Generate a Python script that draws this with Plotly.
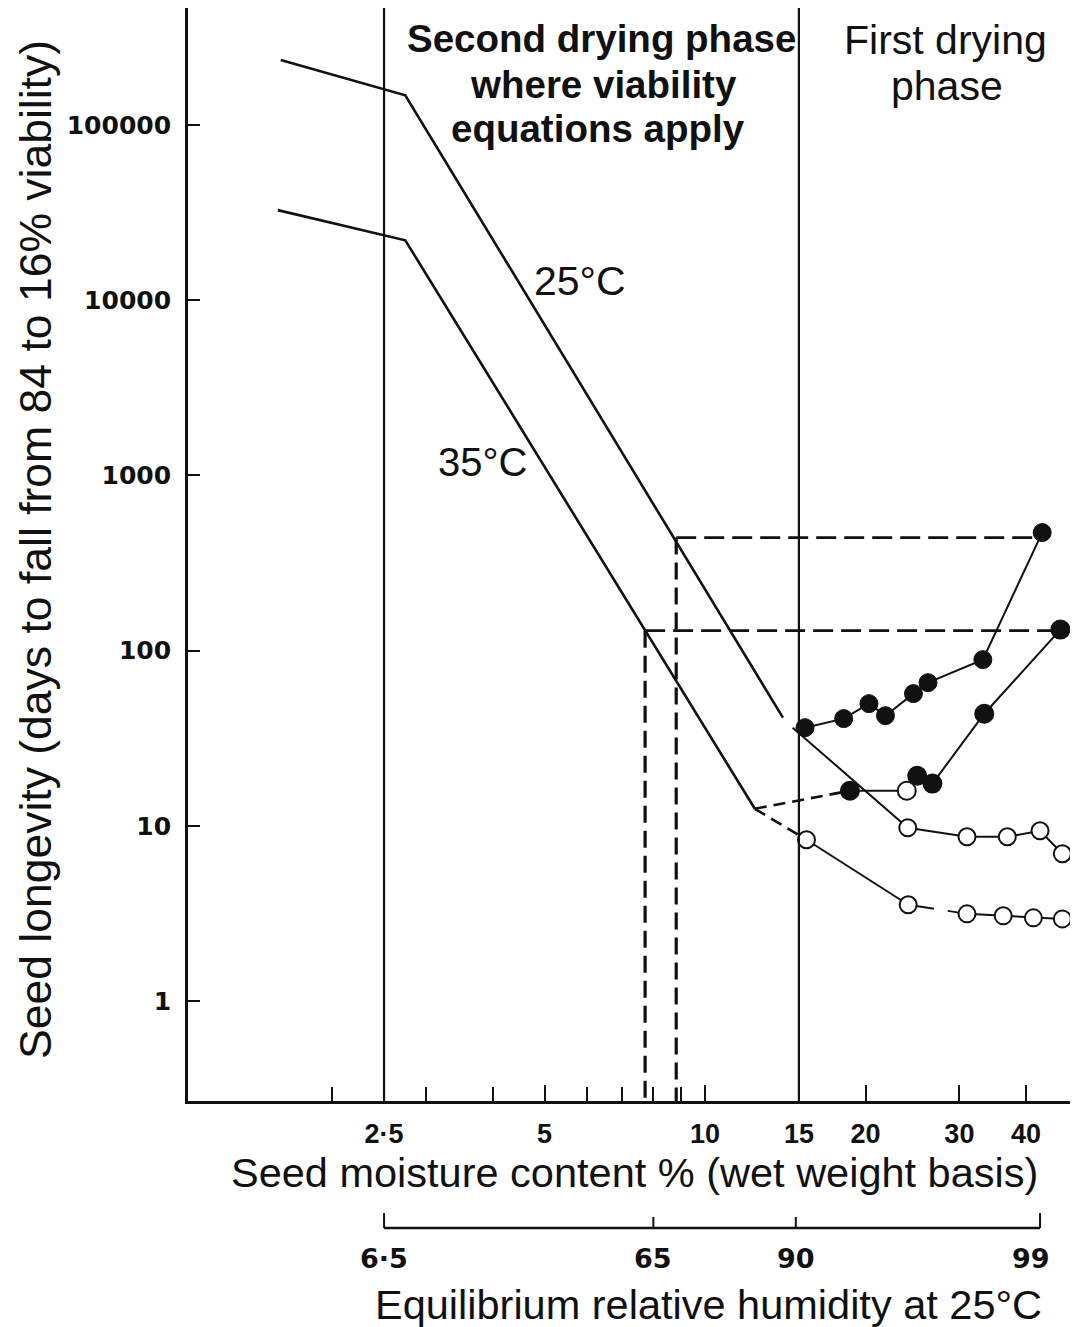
import math
import plotly.graph_objects as go

# ---------------- data ----------------
moist_ticks = [2.5, 5, 10, 15, 20, 30, 40]
moist_tick_text = ["2·5", "5", "10", "15", "20", "30", "40"]
moist_minor = [2, 3, 4, 6, 7, 8, 9]
longevity_ticks = [1, 10, 100, 1000, 10000, 100000]
longevity_tick_text = ["1", "10", "100", "1000", "10000", "100000"]
rh_labels = ["6·5", "65", "90", "99"]
rh_moist = [2.5, 8.0, 14.8, 42.5]
phase_bounds = [2.5, 15]

line25_mc = [1.6, 2.74, 14.0]
line25_days = [235000, 148000, 41.4]
line35_mc = [1.58, 2.74, 12.4]
line35_days = [32700, 22000, 12.5]

filled25_mc = [15.4, 18.2, 20.3, 21.8, 24.6, 26.2, 33.2, 42.9]
filled25_days = [36.3, 40.9, 49.8, 42.5, 56.8, 65.6, 88.8, 472]

open25_mc = [14.6, 24.0, 31.0, 36.9, 42.5, 46.8]
open25_days = [36.3, 9.74, 8.65, 8.65, 9.36, 6.92]

filled35_mc = [18.7, 23.9, 25.0, 26.7, 33.4, 46.4]
filled35_days = [15.85, 15.85, 19.3, 17.4, 43.6, 131.8]
filled35_open = [False, True, False, False, False, False]

open35_mc = [15.5, 24.05, 31.0, 36.25, 41.3, 46.8]
open35_days = [8.32, 3.54, 3.14, 3.06, 2.98, 2.94]

ref_mc = [8.83, 7.72]        # 25°C, 35°C
ref_days = [442, 130]
ref_end_mc = [42.9, 46.4]

# ---------------- layout geometry ----------------
OFF = 8                       # page body margin
W, H = 1078 - OFF, 1327 - OFF
ML, MR, MT, MB = 188 - OFF, 0, 0, 37
PW, PH = W - ML - MR, H - MT - MB
X_RANGE = [0.0302, 1.6996]
Y_RANGE = [-0.5714, 5.6686]
Y_MIN = 10 ** Y_RANGE[0]


def px(x):
    return (x - OFF - ML) / PW


def py(y):
    return (H - MB - (y - OFF)) / PH


Y_DOMAIN_BOTTOM = py(1101)
RH_AXIS_POS = py(1228)

BLACK = "#111111"
LW = 2.6
MS = 17

fig = go.Figure()

# main curves
fig.add_trace(go.Scatter(x=line25_mc, y=line25_days, mode="lines",
                         line=dict(color=BLACK, width=LW), name="25°C"))
fig.add_trace(go.Scatter(x=line35_mc, y=line35_days, mode="lines",
                         line=dict(color=BLACK, width=LW), name="35°C"))

# dashed reference lines (horizontal + vertical)
for mc, d, end in zip(ref_mc, ref_days, ref_end_mc):
    fig.add_trace(go.Scatter(x=[mc, end], y=[d, d],
                             mode="lines", line=dict(color=BLACK, width=2.8, dash="20px,8px"),
                             showlegend=False, hoverinfo="skip"))
    fig.add_trace(go.Scatter(x=[mc, mc], y=[d, Y_MIN],
                             mode="lines", line=dict(color=BLACK, width=3.2, dash="17px,8px"),
                             showlegend=False, hoverinfo="skip"))

# dashed connectors from 35°C line end
fig.add_trace(go.Scatter(x=[line35_mc[-1], filled35_mc[0]], y=[line35_days[-1], filled35_days[0]],
                         mode="lines", line=dict(color=BLACK, width=LW, dash="12px,7px"),
                         showlegend=False, hoverinfo="skip"))
fig.add_trace(go.Scatter(x=[line35_mc[-1], open35_mc[0]], y=[line35_days[-1], open35_days[0]],
                         mode="lines", line=dict(color=BLACK, width=LW, dash="12px,7px"),
                         showlegend=False, hoverinfo="skip"))

# open circles 25°C (line starts at end of 25°C curve, no marker there)
fig.add_trace(go.Scatter(x=open25_mc, y=open25_days, mode="lines",
                         line=dict(color=BLACK, width=2), showlegend=False, hoverinfo="skip"))
fig.add_trace(go.Scatter(x=open25_mc[1:], y=open25_days[1:], mode="markers",
                         marker=dict(size=MS, color="white", line=dict(color=BLACK, width=2)),
                         showlegend=False))

# filled circles 25°C
fig.add_trace(go.Scatter(x=filled25_mc, y=filled25_days, mode="lines+markers",
                         line=dict(color=BLACK, width=2),
                         marker=dict(size=MS + 1, color=BLACK, line=dict(color=BLACK, width=1)),
                         showlegend=False))

# filled circles 35°C
fig.add_trace(go.Scatter(x=filled35_mc, y=filled35_days, mode="lines+markers",
                         line=dict(color=BLACK, width=2),
                         marker=dict(size=MS + 1,
                                     color=["white" if o else BLACK for o in filled35_open],
                                     line=dict(color=BLACK, width=2)),
                         showlegend=False))

# open circles 35°C: solid, dashed gap, solid
fig.add_trace(go.Scatter(x=open35_mc[:2], y=open35_days[:2], mode="lines",
                         line=dict(color=BLACK, width=2), showlegend=False, hoverinfo="skip"))
fig.add_trace(go.Scatter(x=open35_mc[1:3], y=open35_days[1:3], mode="lines",
                         line=dict(color=BLACK, width=2, dash="26px,14px"),
                         showlegend=False, hoverinfo="skip"))
fig.add_trace(go.Scatter(x=open35_mc[2:], y=open35_days[2:], mode="lines",
                         line=dict(color=BLACK, width=2), showlegend=False, hoverinfo="skip"))
fig.add_trace(go.Scatter(x=open35_mc, y=open35_days, mode="markers",
                         marker=dict(size=MS, color="white", line=dict(color=BLACK, width=2)),
                         showlegend=False))

# phase boundaries
for b in phase_bounds:
    fig.add_shape(type="line", xref="x", yref="y domain", x0=b, x1=b, y0=0, y1=1,
                  line=dict(color=BLACK, width=2.2))

# RH scale: bracket line, ticks and labels positioned on the moisture axis
fig.add_shape(type="line", xref="x", yref="paper", x0=rh_moist[0], x1=rh_moist[-1],
              y0=RH_AXIS_POS, y1=RH_AXIS_POS, line=dict(color=BLACK, width=2.5))
for i, (m, lab) in enumerate(zip(rh_moist, rh_labels)):
    tl = 15 if i in (0, len(rh_moist) - 1) else 11
    fig.add_shape(type="line", xref="x", yref="paper", x0=m, x1=m,
                  y0=RH_AXIS_POS, y1=RH_AXIS_POS + tl / PH, line=dict(color=BLACK, width=2))
    last = i == len(rh_moist) - 1
    fig.add_annotation(text=f"<b>{lab}</b>", xref="x", yref="paper", x=math.log10(m),
                       y=py(1258), xanchor="right" if last else "center", yanchor="middle",
                       xshift=12 if last else 0, showarrow=False,
                       font=dict(family="DejaVu Sans, sans-serif", size=27, color=BLACK))

TXT = dict(family="Liberation Sans, Arial, sans-serif", color=BLACK)


def ann(text, x, y, size=40, bold=False, angle=0):
    t = f"<b>{text}</b>" if bold else text
    fig.add_annotation(text=t, xref="paper", yref="paper", x=px(x), y=py(y),
                       xanchor="center", yanchor="middle", showarrow=False,
                       textangle=angle, font=dict(size=size, **TXT))


ann("Second drying phase", 601, 38, 38.5, True)
ann("where viability", 603, 84, 38.5, True)
ann("equations apply", 598, 128, 38.5, True)
ann("First drying", 945, 40, 41)
ann("phase", 947, 86, 41)
ann("25°C", 580, 281, 41)
ann("35°C", 482, 462, 40)
ann("Seed moisture content % (wet weight basis)", 634, 1172, 41.5)
ann("Equilibrium relative humidity at 25°C", 708, 1304, 41.5)
ann("Seed longevity (days to fall from 84 to 16% viability)", 35, 550, 44.5, angle=-90)

fig.update_layout(
    width=W, height=H,
    margin=dict(l=ML, r=MR, t=MT, b=MB, autoexpand=False),
    paper_bgcolor="white", plot_bgcolor="white",
    showlegend=False,
    xaxis=dict(type="log", range=X_RANGE, showgrid=False, zeroline=False,
               showline=True, linecolor=BLACK, linewidth=2.8, mirror=True,
               tickmode="array", tickvals=moist_ticks, ticktext=moist_tick_text,
               ticks="inside", ticklen=16, tickwidth=2, tickcolor=BLACK,
               ticklabelstandoff=7,
               tickfont=dict(family="Liberation Sans, Arial, sans-serif", size=27,
                             color=BLACK, weight="bold"),
               minor=dict(tickmode="array", tickvals=moist_minor, ticks="inside",
                          ticklen=14, tickwidth=2, tickcolor=BLACK, showgrid=False),
               automargin=False),
    yaxis=dict(type="log", range=Y_RANGE, domain=[Y_DOMAIN_BOTTOM, 1],
               showgrid=False, zeroline=False, showline=True, linecolor=BLACK,
               linewidth=2.8, tickmode="array", tickvals=longevity_ticks,
               ticktext=longevity_tick_text, ticks="inside", ticklen=12, tickwidth=2.2,
               tickcolor=BLACK, ticklabelstandoff=9,
               tickfont=dict(family="DejaVu Sans, sans-serif", size=25, color=BLACK,
                             weight="bold"),
               automargin=False),
)

fig.write_html("out.html")
